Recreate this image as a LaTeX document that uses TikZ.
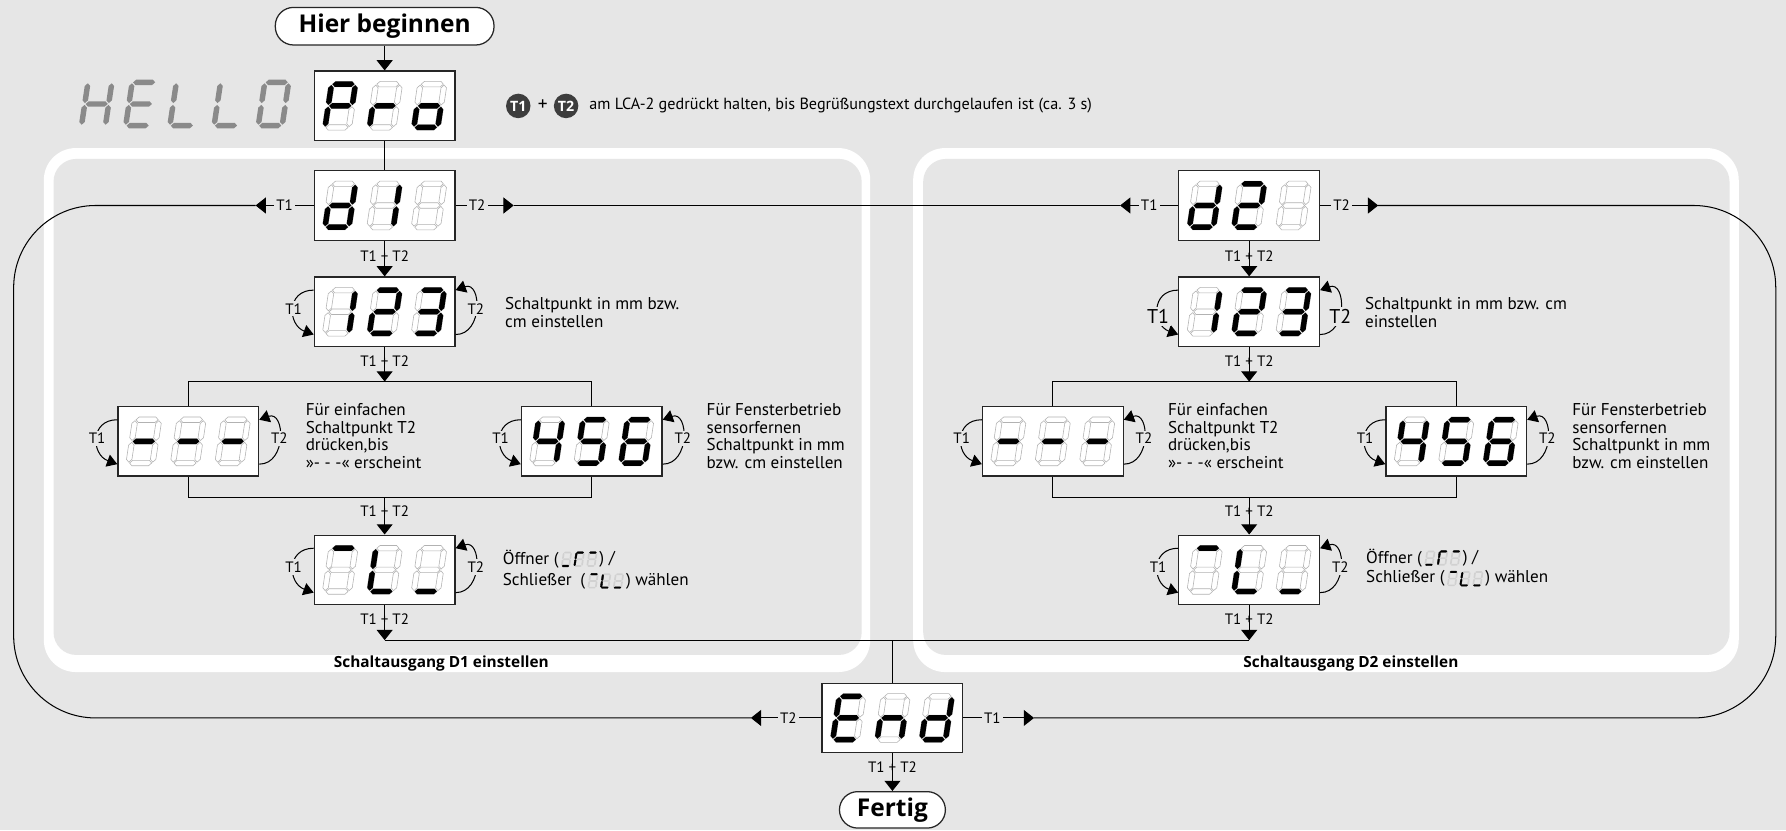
\documentclass[tikz,border=0pt]{standalone}
\usepackage{fontspec}
\setmainfont{PT Sans}
\newfontfamily\headfont{Open Sans}
\usetikzlibrary{arrows.meta,positioning}

\definecolor{bg}{HTML}{E6E6E6}
\definecolor{hello}{HTML}{8A8A8A}
\definecolor{keyfill}{HTML}{3D3D3D}

\tikzset{
  % seven segments of one digit, a = top, g = middle, d = bottom
  sg a/.style={insert path={(-9.7,-19) -- (-7.3,-21.4) -- (7.3,-21.4) -- (9.7,-19) -- (7.3,-16.6) -- (-7.3,-16.6) -- cycle}},
  sg g/.style={insert path={(-9.7,0) -- (-7.3,-2.4) -- (7.3,-2.4) -- (9.7,0) -- (7.3,2.4) -- (-7.3,2.4) -- cycle}},
  sg d/.style={insert path={(-9.7,19) -- (-7.3,16.6) -- (7.3,16.6) -- (9.7,19) -- (7.3,21.4) -- (-7.3,21.4) -- cycle}},
  sg f/.style={insert path={(-10.5,-18.2) -- (-8.1,-15.8) -- (-8.1,-3.2) -- (-10.5,-0.8) -- (-12.9,-3.2) -- (-12.9,-15.8) -- cycle}},
  sg b/.style={insert path={(10.5,-18.2) -- (12.9,-15.8) -- (12.9,-3.2) -- (10.5,-0.8) -- (8.1,-3.2) -- (8.1,-15.8) -- cycle}},
  sg e/.style={insert path={(-10.5,0.8) -- (-8.1,3.2) -- (-8.1,15.8) -- (-10.5,18.2) -- (-12.9,15.8) -- (-12.9,3.2) -- cycle}},
  sg c/.style={insert path={(10.5,0.8) -- (12.9,3.2) -- (12.9,15.8) -- (10.5,18.2) -- (8.1,15.8) -- (8.1,3.2) -- cycle}},
  segon/.style={fill=black},
  segoff/.style={draw=black!30, fill=white, line width=0.5pt},
  disp/.style={draw=black!85, line width=1.1pt, fill=white, minimum width=123.5pt, minimum height=61pt, inner sep=0pt},
  pill/.style={draw=black!85, line width=1.1pt, fill=white, rounded corners=16pt, inner sep=0pt, font=\headfont\bfseries\fontsize{21.5}{23}\selectfont},
  arr/.style={-{Triangle[length=9pt,width=14pt]}},
  looparr/.style={-{Triangle[length=9pt,width=11pt]}},
  lbl/.style={font=\fontsize{13.2}{14}\selectfont, inner sep=1pt},
  lblm/.style={lbl, fill=bg, inner sep=2pt},
  bigT/.style={font=\fontsize{17.5}{18}\selectfont, yshift=-7pt},
  txt/.style={align=left, anchor=north west, inner sep=0pt},
  icon/.style={scale=0.31, segoff/.style={fill=black!18}, segon/.style={fill=black, draw=black, line width=0.3pt}},
  frametitle/.style={font=\headfont\bfseries\fontsize{13.5}{15}\selectfont, inner sep=0pt},
  btn/.style={circle, fill=keyfill, text=white, inner sep=0pt, minimum size=21.5pt, font=\headfont\bfseries\fontsize{12.5}{12.5}\selectfont},
}

% one digit: x offset, lit segments
\newcommand{\digit}[2]{%
  \begin{scope}[shift={(#1,0)}, xslant=0.15]
    \foreach \seg in {a,b,c,d,e,f,g}{\edef\segcmd{\noexpand\path[segoff, sg \seg];}\segcmd}
    \foreach \seg in {#2}{\ifx\seg\empty\else\edef\segcmd{\noexpand\path[segon, sg \seg];}\segcmd\fi}
  \end{scope}}

% display box: name, position, three digits
\newcommand{\display}[5]{%
  \node[disp] (#1) at (#2) {};
  \begin{scope}[shift={(#1.center)}]
    \digit{-39}{#3}\digit{0}{#4}\digit{39}{#5}
  \end{scope}}

% T1 / T2 loops beside a display
\newcommand{\loops}[2][]{%
  \draw[looparr] ([yshift=19pt]#2.west) to[out=180, in=160, looseness=1.6] node[lblm, #1] {T1} ([yshift=-20pt]#2.west);
  \draw[looparr] ([yshift=-20pt]#2.east) to[out=0, in=20, looseness=1.6] node[lblm, #1] {T2} ([yshift=19pt]#2.east);}

% small icon in the text
\newcommand{\mini}[3]{\digit{0}{#1}\digit{36}{#2}\digit{72}{#3}}

\begin{document}
\begin{tikzpicture}[x=1pt, y=-1pt, line width=0.9pt, font=\fontsize{15}{15.3}\selectfont]
  % ==== CANVAS ====
  \fill[bg] (0,0) rectangle (1568,729);
  \useasboundingbox (0,0) rectangle (1568,729);

  % ==== FRAMES ====
  \fill[white, rounded corners=28pt] (38.5,130) rectangle (764,590);
  \fill[bg, rounded corners=20pt] (47,139.5) rectangle (756.5,575);
  \fill[white, rounded corners=28pt] (801.7,130) rectangle (1526.5,590);
  \fill[bg, rounded corners=20pt] (810.5,139.5) rectangle (1518.4,575);
  \node[frametitle] (ti1) at (387.5,582.5) {Schaltausgang D1 einstellen};
  \node[frametitle] (ti2) at (1186,582.5) {Schaltausgang D2 einstellen};

  % ==== START ====
  \node[pill, minimum width=192pt, minimum height=33pt] (hier) at (337.7,23) {Hier beginnen};
  \display{pro}{337.7,92.9}{a,b,e,f,g}{e,g}{c,d,e,g}
  \draw[arr] (hier) -- (pro);
  \begin{scope}[shift={(84.9,91.3)}, segoff/.style={}, segon/.style={fill=hello}]
    \digit{0}{b,c,e,f,g}\digit{38.8}{a,d,e,f,g}\digit{77.6}{d,e,f}\digit{116.4}{d,e,f}\digit{155.2}{a,b,c,d,e,f}
  \end{scope}
  \node[btn] (k1) at (455,93) {T1};
  \node[inner sep=0pt, font=\fontsize{17}{17}\selectfont] (plus) at (476.5,92) {+};
  \node[btn] (k2) at (497,93) {T2};
  \node[anchor=west, inner sep=0pt, font=\fontsize{14.2}{15}\selectfont] (hint) at (517,93) {am LCA-2 gedrückt halten, bis Begrüßungstext durchgelaufen ist (ca. 3 s)};

  % ==== OUTPUT D1 ====
  \display{d1}{337.7,180.4}{b,c,d,e,g}{b,c}{}
  \display{n1}{337.7,273.7}{b,c}{a,b,d,e,g}{a,b,c,d,g}
  \display{lo1}{165.3,387.5}{g}{g}{g}
  \display{hi1}{519.5,387.5}{b,c,f,g}{a,c,d,f,g}{a,c,d,e,f,g}
  \display{oc1}{337.7,500.3}{a}{d,e,f}{d}
  \coordinate (sa1) at (337.7,335);
  \coordinate (sb1) at (337.7,436.5);
  \draw (pro) -- (d1);
  \draw[arr] (d1) -- node[lbl, pos=0, yshift=-13.5pt] {T1 + T2} (n1);
  \draw[arr] (n1) -- node[lbl, pos=0, yshift=-12pt] {T1 + T2} (sa1);
  \draw (lo1) |- (sa1) -| (hi1);
  \draw (lo1) |- (sb1) -| (hi1);
  \draw[arr] (sb1) -- node[lbl, pos=0, yshift=-12pt] {T1 + T2} (oc1);
  \loops{n1} \loops{lo1} \loops{hi1} \loops{oc1}
  \node[txt] (tn1) at (443,261) {Schaltpunkt in mm bzw.\\cm einstellen};
  \node[txt] (tlo1) at (268,354) {Für einfachen\\Schaltpunkt T2\\drücken,bis\\»- - -« erscheint};
  \node[txt] (thi1) at (620,354) {Für Fensterbetrieb\\sensorfernen\\Schaltpunkt in mm\\bzw. cm einstellen};
  \node[txt, anchor=west] (oe1) at (441,491) {Öffner (};
  \begin{scope}[shift={(oe1.east)}, xshift=6.5pt, icon]
    \mini{d}{a,e,f}{a}
  \end{scope}
  \node[txt, anchor=west] (oe1r) at ([xshift=35pt]oe1.east) {) /};
  \node[txt, anchor=west] (sc1) at (441,510) {Schließer\enspace(};
  \begin{scope}[shift={(sc1.east)}, xshift=6.5pt, icon]
    \mini{a}{d,e,f}{d}
  \end{scope}
  \node[txt, anchor=west] (sc1r) at ([xshift=35pt]sc1.east) {) wählen};

  % ==== OUTPUT D2 ====
  \display{d2}{1096.7,180.4}{b,c,d,e,g}{a,b,d,e,g}{}
  \display{n2}{1096.7,273.7}{b,c}{a,b,d,e,g}{a,b,c,d,g}
  \display{lo2}{924.3,387.5}{g}{g}{g}
  \display{hi2}{1278.5,387.5}{b,c,f,g}{a,c,d,f,g}{a,c,d,e,f,g}
  \display{oc2}{1096.7,500.3}{a}{d,e,f}{d}
  \coordinate (sa2) at (1096.7,335);
  \coordinate (sb2) at (1096.7,436.5);
  \draw[arr] (d2) -- node[lbl, pos=0, yshift=-13.5pt] {T1 + T2} (n2);
  \draw[arr] (n2) -- node[lbl, pos=0, yshift=-12pt] {T1 + T2} (sa2);
  \draw (lo2) |- (sa2) -| (hi2);
  \draw (lo2) |- (sb2) -| (hi2);
  \draw[arr] (sb2) -- node[lbl, pos=0, yshift=-12pt] {T1 + T2} (oc2);
  \loops[bigT]{n2} \loops{lo2} \loops{hi2} \loops{oc2}
  \node[txt] (tn2) at (1198,261) {Schaltpunkt in mm bzw. cm\\einstellen};
  \node[txt] (tlo2) at (1025,354) {Für einfachen\\Schaltpunkt T2\\drücken,bis\\»- - -« erscheint};
  \node[txt] (thi2) at (1380,354) {Für Fensterbetrieb\\sensorfernen\\Schaltpunkt in mm\\bzw. cm einstellen};
  \node[txt, anchor=west] (oe2) at (1199,490) {Öffner (};
  \begin{scope}[shift={(oe2.east)}, xshift=6.5pt, icon]
    \mini{d}{a,e,f}{a}
  \end{scope}
  \node[txt, anchor=west] (oe2r) at ([xshift=35pt]oe2.east) {) /};
  \node[txt, anchor=west] (sc2) at (1199,508) {Schließer (};
  \begin{scope}[shift={(sc2.east)}, xshift=6.5pt, icon]
    \mini{a}{d,e,f}{d}
  \end{scope}
  \node[txt, anchor=west] (sc2r) at ([xshift=35pt]sc2.east) {) wählen};

  % ==== END ====
  \display{ende}{783.5,630.3}{a,d,e,f,g}{c,e,g}{b,c,d,e,g}
  \node[pill, minimum width=93pt, minimum height=32pt] (fertig) at (783.5,711) {Fertig};
  \coordinate (jn) at (783.5,562);
  \draw[arr] (oc1) -- node[lbl, pos=0, yshift=-12pt] {T1 + T2} (oc1 |- jn);
  \draw[arr] (oc2) -- node[lbl, pos=0, yshift=-12pt] {T1 + T2} (oc2 |- jn);
  \draw (oc1 |- jn) -- (oc2 |- jn);
  \draw (jn) -- (ende);
  \draw[arr] (ende) -- node[lbl, pos=0, yshift=-12.5pt] {T1 + T2} (fertig);

  % ==== T1 / T2 ROUND TRIPS ====
  \coordinate[left=51pt of d1.west] (ta1);
  \coordinate[right=51pt of d1.east] (tb1);
  \coordinate[left=51pt of d2.west] (ta2);
  \coordinate[right=51pt of d2.east] (tb2);
  \coordinate[left=62pt of ende.west] (te1);
  \coordinate[right=62pt of ende.east] (te2);
  \coordinate (rimL) at (12,400);
  \coordinate (rimR) at (1559,400);
  \draw[arr] (d1.west) -- node[lblm] {T1} (ta1);
  \draw[arr] (d1.east) -- node[lblm, pos=0.37] {T2} (tb1);
  \draw[arr] (d2.west) -- node[lblm] {T1} (ta2);
  \draw[arr] (d2.east) -- node[lblm, pos=0.37] {T2} (tb2);
  \draw[arr] (ende.west) -- node[lblm, pos=0.47] {T2} (te1);
  \draw[arr] (ende.east) -- node[lblm, pos=0.41] {T1} (te2);
  \draw (tb1) -- (ta2);
  \draw[rounded corners=72pt] (ta1) -| (rimL) |- (te1);
  \draw[rounded corners=72pt] (tb2) -| (rimR) |- (te2);
\end{tikzpicture}
\end{document}
